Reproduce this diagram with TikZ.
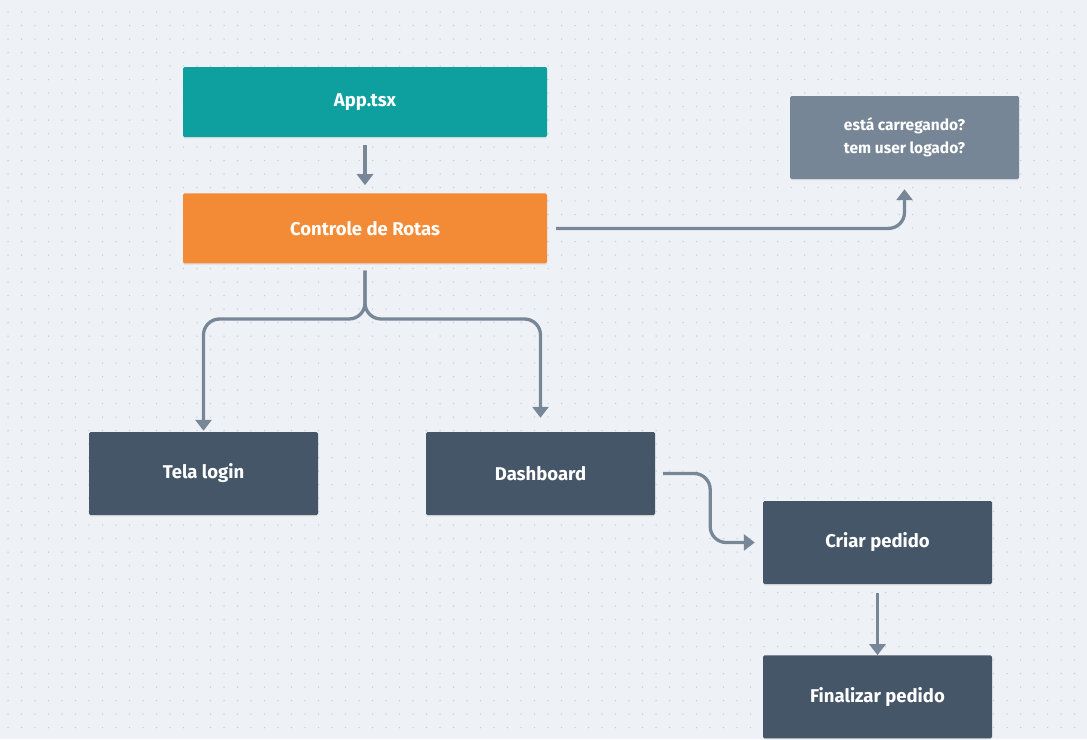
\documentclass[tikz,border=0pt]{standalone}
\usepackage{fontspec}
\setmainfont{Fira Sans}
\usetikzlibrary{positioning,calc,arrows.meta,shadows}

\definecolor{bgcol}{HTML}{EEF2F7}
\definecolor{dotcol}{HTML}{C5CCD6}
\definecolor{tealcol}{HTML}{0EA09F}
\definecolor{orangecol}{HTML}{F38B36}
\definecolor{slatecol}{HTML}{778696}
\definecolor{darkcol}{HTML}{465669}
\definecolor{arrowcol}{HTML}{788797}

\begin{document}
\begin{tikzpicture}[
    x=1pt, y=-1pt,
    box/.style={rectangle, rounded corners=1.5pt, text=white, font=\bfseries\fontsize{18.5}{22}\selectfont,
        align=center, inner sep=0pt,
        drop shadow={opacity=0.12, shadow xshift=0pt, shadow yshift=-1.5pt}},
    widebox/.style={box, minimum width=364pt, minimum height=70pt},
    screen/.style={box, fill=darkcol, minimum width=229pt, minimum height=83pt},
    conn/.style={draw=arrowcol, line width=3.3pt, -{Triangle[length=11pt,width=16pt]}},
    roundconn/.style={conn, rounded corners=16pt}
]
    % background with dot grid
    \fill[bgcol] (0,0) rectangle (1087,739);
    \useasboundingbox (0,0) rectangle (1087,739);
    \foreach \i in {0,...,80} {
        \foreach \j in {0,...,54} {
            \fill[dotcol] (8+13.5*\i, 12+13.5*\j) circle (0.75pt);
        }
    }

    % top chain
    \node[widebox, fill=tealcol] (app) at (365,102) {App.tsx};
    \node[widebox, fill=orangecol, below=56pt of app] (ctrl) {Controle de Rotas};
    \node[box, fill=slatecol, minimum width=229pt, minimum height=83pt,
          font=\bfseries\fontsize{15.5}{23}\selectfont] (status) at (904.5,137.5)
          {está carregando?\\tem user logado?};

    % screens
    \node[screen] (login) at (203.5,473.5) {Tela login};
    \node[screen] (dash) at (540.5,473.5) {Dashboard};
    \node[screen] (criar) at (877.5,542.5) {Criar pedido};
    \node[screen, below=71pt of criar] (final) {Finalizar pedido};

    \coordinate (split) at (365,319);
    \coordinate (dbend) at ([xshift=55pt]dash.east);

    \draw[conn, shorten <=8pt, shorten >=8pt] (app) -- (ctrl);
    \draw[roundconn, shorten <=9pt, shorten >=10pt] (ctrl.east) -| (status.south);

    % split to both screens
    \draw[roundconn, shorten <=7pt, shorten >=1pt] (ctrl.south) -- (split) -| (login.north);
    \draw[roundconn, shorten <=7pt, shorten >=14pt] (ctrl.south) -- (split) -| (dash.north);

    \draw[roundconn, shorten <=8pt, shorten >=8pt] (dash.east) -- (dbend) |- (criar.west);
    \draw[conn, shorten <=9pt, shorten >=0pt] (criar) -- (final);
\end{tikzpicture}
\end{document}
